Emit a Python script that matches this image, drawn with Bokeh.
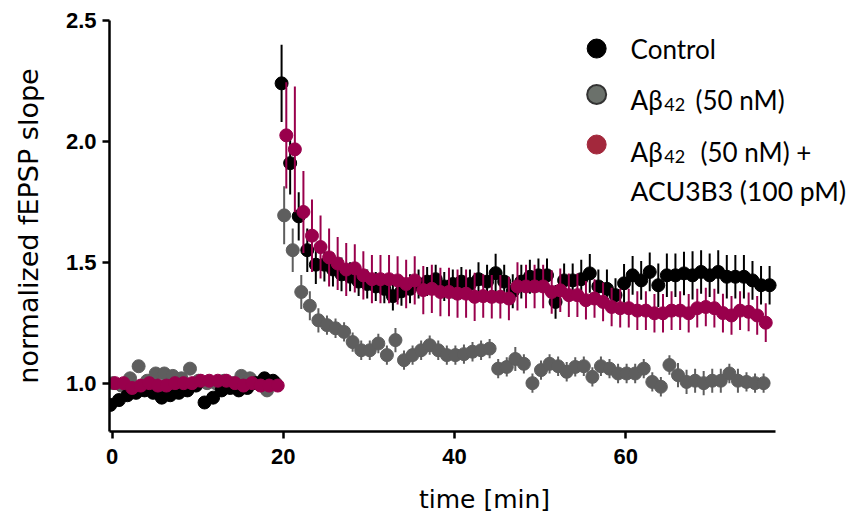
import numpy as np
from bokeh.plotting import figure
from bokeh.models import FixedTicker, Label, Range1d, PrintfTickFormatter
from bokeh.embed import file_html
from bokeh.resources import INLINE

# ---------------- data ----------------
# sampling index in minutes; each series is drawn with a small horizontal offset
control_offset = -0.2
abeta_offset = 0.1
acu_offset = 0.35

control_mean = [0.91, 0.93, 0.95, 0.96, 0.97, 0.96, 0.94, 0.95, 0.96, 0.97,
                0.99, 0.92, 0.94, 0.97, 0.98, 0.97, 0.98, 1.00, 1.02, 1.01,
                2.24, 1.91, 1.69, 1.55, 1.49, 1.49, 1.47, 1.45, 1.44, 1.42,
                1.41, 1.40, 1.39, 1.36, 1.38, 1.39, 1.41, 1.42, 1.43, 1.40,
                1.41, 1.42, 1.41, 1.43, 1.42, 1.455, 1.42, 1.38, 1.42, 1.44,
                1.446, 1.446, 1.336, 1.425, 1.425, 1.43, 1.454, 1.40, 1.39, 1.364,
                1.413, 1.446, 1.425, 1.46, 1.405, 1.446, 1.446, 1.454, 1.446, 1.46,
                1.446, 1.46, 1.44, 1.44, 1.44, 1.425, 1.405, 1.405]
control_sem = [0.02, 0.02, 0.02, 0.02, 0.02, 0.02, 0.02, 0.02, 0.02, 0.02,
               0.02, 0.02, 0.02, 0.02, 0.02, 0.02, 0.02, 0.02, 0.02, 0.02,
               0.16, 0.13, 0.10, 0.09, 0.08, 0.07, 0.07, 0.07, 0.06, 0.06,
               0.06, 0.06, 0.06, 0.06, 0.06, 0.06, 0.06, 0.06, 0.06, 0.06,
               0.06, 0.06, 0.06, 0.07, 0.07, 0.08, 0.07, 0.07, 0.07, 0.07,
               0.07, 0.07, 0.07, 0.07, 0.07, 0.08, 0.08, 0.07, 0.08, 0.07,
               0.08, 0.08, 0.08, 0.08, 0.09, 0.09, 0.09, 0.09, 0.10, 0.09,
               0.09, 0.09, 0.09, 0.09, 0.09, 0.08, 0.08, 0.08]

abeta_mean = [1.00, 0.99, 1.02, 1.07, 1.01, 1.04, 1.04, 1.03, 1.02, 1.06,
              1.01, 1.00, 1.00, 1.01, 1.00, 1.03, 1.02, 1.00, 0.97, 1.00,
              1.694, 1.55, 1.377, 1.32, 1.26, 1.24, 1.227, 1.212, 1.17, 1.136,
              1.136, 1.164, 1.116, 1.178, 1.095, 1.116, 1.136, 1.157, 1.136, 1.116,
              1.116, 1.12, 1.13, 1.136, 1.143, 1.06, 1.067, 1.10, 1.08, 1.00,
              1.054, 1.08, 1.07, 1.047, 1.067, 1.07, 1.026, 1.07, 1.06, 1.04,
              1.04, 1.04, 1.06, 1.005, 0.985, 1.075, 1.033, 1.005, 1.01, 1.00,
              1.01, 1.01, 1.04, 1.01, 1.005, 1.00, 1.00]
abeta_sem = [0.02, 0.02, 0.02, 0.02, 0.02, 0.02, 0.02, 0.02, 0.02, 0.02,
             0.02, 0.02, 0.02, 0.02, 0.02, 0.02, 0.02, 0.02, 0.02, 0.02,
             0.12, 0.09, 0.07, 0.06, 0.05, 0.04, 0.04, 0.04, 0.04, 0.04,
             0.04, 0.04, 0.04, 0.05, 0.04, 0.04, 0.04, 0.04, 0.04, 0.04,
             0.04, 0.04, 0.04, 0.04, 0.04, 0.04, 0.04, 0.05, 0.04, 0.04,
             0.04, 0.04, 0.04, 0.04, 0.04, 0.04, 0.04, 0.04, 0.04, 0.04,
             0.04, 0.04, 0.04, 0.04, 0.04, 0.04, 0.05, 0.05, 0.05, 0.05,
             0.05, 0.05, 0.04, 0.05, 0.04, 0.04, 0.04]

acu_mean = [1.00, 1.00, 0.98, 0.99, 1.00, 0.99, 0.99, 1.00, 1.00, 1.00,
            1.01, 1.01, 1.01, 1.01, 1.00, 0.99, 1.00, 0.99, 0.99, 0.99,
            2.025, 1.967, 1.708, 1.61, 1.563, 1.52, 1.495, 1.47, 1.475, 1.446,
            1.43, 1.43, 1.43, 1.425, 1.41, 1.425, 1.385, 1.39, 1.377, 1.377,
            1.37, 1.37, 1.357, 1.36, 1.357, 1.357, 1.35, 1.40, 1.40, 1.40,
            1.40, 1.377, 1.384, 1.364, 1.364, 1.343, 1.35, 1.336, 1.315, 1.31,
            1.31, 1.30, 1.30, 1.289, 1.289, 1.30, 1.30, 1.289, 1.31, 1.315,
            1.31, 1.29, 1.28, 1.30, 1.295, 1.28, 1.25]
acu_sem = [0.02, 0.02, 0.02, 0.02, 0.02, 0.02, 0.02, 0.02, 0.02, 0.02,
           0.02, 0.02, 0.02, 0.02, 0.02, 0.02, 0.02, 0.02, 0.02, 0.02,
           0.22, 0.26, 0.17, 0.15, 0.13, 0.12, 0.11, 0.11, 0.10, 0.10,
           0.10, 0.10, 0.10, 0.10, 0.10, 0.10, 0.10, 0.10, 0.10, 0.10,
           0.10, 0.10, 0.10, 0.09, 0.09, 0.09, 0.09, 0.10, 0.09, 0.09,
           0.09, 0.09, 0.09, 0.09, 0.09, 0.08, 0.08, 0.08, 0.08, 0.08,
           0.08, 0.08, 0.08, 0.08, 0.08, 0.08, 0.08, 0.08, 0.08, 0.08,
           0.08, 0.08, 0.08, 0.08, 0.08, 0.08, 0.08]

x_ticks = [0, 20, 40, 60]
y_ticks = [1.0, 1.5, 2.0, 2.5]
x_axis_end = 77.5

series = [
    ("Abeta", abeta_mean, abeta_sem, abeta_offset, "#5e5e5e"),
    ("Control", control_mean, control_sem, control_offset, "#000000"),
    ("ACU", acu_mean, acu_sem, acu_offset, "#99004c"),
]

# ---------------- figure ----------------
p = figure(width=859, height=518, output_backend="svg", toolbar_location=None,
           x_range=Range1d(-0.3, 87.3), y_range=Range1d(0.8, 2.5),
           min_border_left=109, min_border_right=0,
           min_border_top=20, min_border_bottom=87)
p.outline_line_color = None
p.grid.visible = False
p.background_fill_color = "white"
p.border_fill_color = "white"

for name, mean, sem, off, col in series:
    m = np.array(mean)
    e = np.array(sem)
    t = np.arange(len(m)) + off
    p.segment(x0=t, y0=m - e, x1=t, y1=m + e, line_color=col, line_width=2)
    p.scatter(x=t, y=m, size=13, fill_color=col, line_color=col, marker="circle")

for ax in (p.xaxis[0], p.yaxis[0]):
    ax.axis_line_width = 2.5
    ax.axis_line_color = "black"
    ax.major_tick_line_width = 2.5
    ax.major_tick_line_color = "black"
    ax.major_tick_out = 7
    ax.major_tick_in = 0
    ax.minor_tick_line_color = None
    ax.major_label_text_font = "Liberation Sans"
    ax.major_label_text_font_style = "bold"
    ax.major_label_text_font_size = "22px"
    ax.major_label_text_color = "black"
    ax.axis_label_text_font = "DejaVu Sans"
    ax.axis_label_text_font_style = "normal"
    ax.axis_label_text_color = "black"

p.xaxis.bounds = (-0.3, x_axis_end)
p.xaxis.ticker = FixedTicker(ticks=x_ticks)
p.yaxis.ticker = FixedTicker(ticks=y_ticks)
p.yaxis.formatter = PrintfTickFormatter(format="%.1f")
p.xaxis.major_label_standoff = 10
p.yaxis.major_label_standoff = 6
p.xaxis.axis_label = "time [min]"
p.yaxis.axis_label = "normalized fEPSP slope"
p.xaxis.axis_label_text_font_size = "25px"
p.yaxis.axis_label_text_font_size = "27px"
p.xaxis.axis_label_standoff = 18
p.yaxis.axis_label_standoff = 19

# ---------------- legend (custom, with subscripts) ----------------
leg_font = "Lato"
p.scatter(x=[56.6], y=[2.384], size=19, fill_color="black", line_color="black")
p.scatter(x=[56.6], y=[2.194], size=19, fill_color="#6b716b", line_color="#333333", line_width=2)
p.scatter(x=[56.6], y=[1.987], size=19, fill_color="#a3283c", line_color="#a3283c")

def lab(x, y, text, size="26px"):
    p.add_layout(Label(x=x, y=y, text=text, text_font=leg_font, text_font_size=size,
                       text_color="black", text_baseline="alphabetic", text_align="left"))

lab(60.56, 2.384, "Control")
lab(60.56, 2.173, "A\u03b2")
lab(64.5, 2.153, "42", "18px")
lab(68.15, 2.173, "(50 nM)")
lab(60.56, 1.958, "A\u03b2")
lab(64.5, 1.937, "42", "18px")
lab(68.74, 1.958, "(50 nM) +")
lab(60.56, 1.793, "ACU3B3 (100 pM)", "26.5px")

open("out.html", "w").write(file_html(p, INLINE))
